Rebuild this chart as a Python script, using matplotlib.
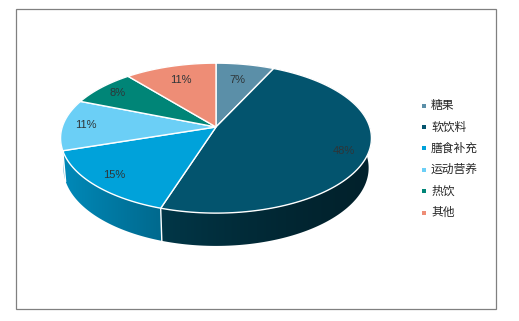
import numpy as np
import matplotlib
matplotlib.use("Agg")
import matplotlib.pyplot as plt
from matplotlib.patches import Rectangle, Polygon
from matplotlib.colors import to_rgb

# data
categories = ["糖果", "软饮料", "膳食补充", "运动营养", "热饮", "其他"]
shares = [7, 48, 15, 11, 8, 11]
colors = ["#5B8FA8", "#03546E", "#00A2DA", "#6BCFF6", "#008577", "#EE8D76"]

# layout (pixel space, y down)
W, H = 519, 321
cx, cy = 216, 127           # where the slices meet
S, D = 910, 5.92            # perspective scale / camera distance
sin_e = 0.477
cos_e = np.sqrt(1 - sin_e ** 2)
depth = 0.2226
label_r = [0.72, 0.85, 0.85, 0.85, 0.85, 0.75]


def proj(theta, f=1.0, y3=0.0):
    X = f * np.cos(theta)
    Z = f * np.sin(theta)
    v = Z * sin_e + y3 * cos_e
    w = D + Z * cos_e - y3 * sin_e
    return cx + S * X / w, cy - S * v / w


fig = plt.figure(figsize=(W / 100, H / 100), dpi=100)
ax = fig.add_axes([0, 0, 1, 1])
ax.set_xlim(0, W)
ax.set_ylim(H, 0)
ax.axis("off")

# slice angles, start at 12 o'clock, clockwise
frac = np.array(shares) / sum(shares)
bounds = np.pi / 2 - 2 * np.pi * np.concatenate([[0], np.cumsum(frac)])

# side walls: horizontal gradient clipped to each slice's rim
xl, _ = proj(np.pi)
xr, _ = proj(0.0)
gx = np.linspace(0, W, 520)
u = np.clip((gx - xl) / (xr - xl), 0, 1)
shade = 0.4 + 0.45 * (1 - u) ** 1.5
order = sorted(range(len(shares)), key=lambda i: -np.sin((bounds[i] + bounds[i + 1]) / 2))
for i in order:
    t = np.linspace(bounds[i], bounds[i + 1], 150)
    xt, yt = proj(t)
    xb, yb = proj(t[::-1], y3=-depth)
    poly = Polygon(np.c_[np.r_[xt, xb], np.r_[yt, yb]], closed=True,
                   fc="none", ec="none", transform=ax.transData)
    ax.add_patch(poly)
    img = np.array(to_rgb(colors[i]))[None, None, :] * shade[None, :, None]
    im = ax.imshow(img, extent=(0, W, H, 0), aspect="auto", zorder=1,
                   interpolation="bilinear")
    im.set_clip_path(poly)

# white seams on the visible front walls
for b in bounds[:-1]:
    if np.sin(b) < 0:
        xa, ya = proj(b)
        xb2, yb2 = proj(b, y3=-depth)
        ax.plot([xa, xb2], [ya, yb2], color="white", lw=1, zorder=2)

# top face
for i in range(len(shares)):
    t = np.linspace(bounds[i], bounds[i + 1], 120)
    xs, ys = proj(t)
    ax.fill(np.r_[cx, xs], np.r_[cy, ys], color=colors[i], ec="white", lw=1, zorder=3)
    mid = (bounds[i] + bounds[i + 1]) / 2
    lx, ly = proj(mid, label_r[i])
    ax.text(lx, ly, f"{shares[i]}%", ha="center", va="center", fontsize=8,
            color="#2E3538", family="Liberation Sans", zorder=4)

# legend
for i, name in enumerate(categories):
    ly = 105.5 + i * 21.4
    ax.scatter([424], [ly], marker="s", s=9, color=colors[i], lw=0, zorder=4)
    ax.text(431, ly, name, ha="left", va="center", fontsize=8.5, color="#262626",
            family=["Noto Sans CJK SC", "DejaVu Sans"])

# chart frame
ax.add_patch(Rectangle((16, 9), 480, 300, fill=False, ec="#808080", lw=0.9))

ax.set_xlim(0, W)
ax.set_ylim(H, 0)
fig.savefig("out.png", dpi=100)
